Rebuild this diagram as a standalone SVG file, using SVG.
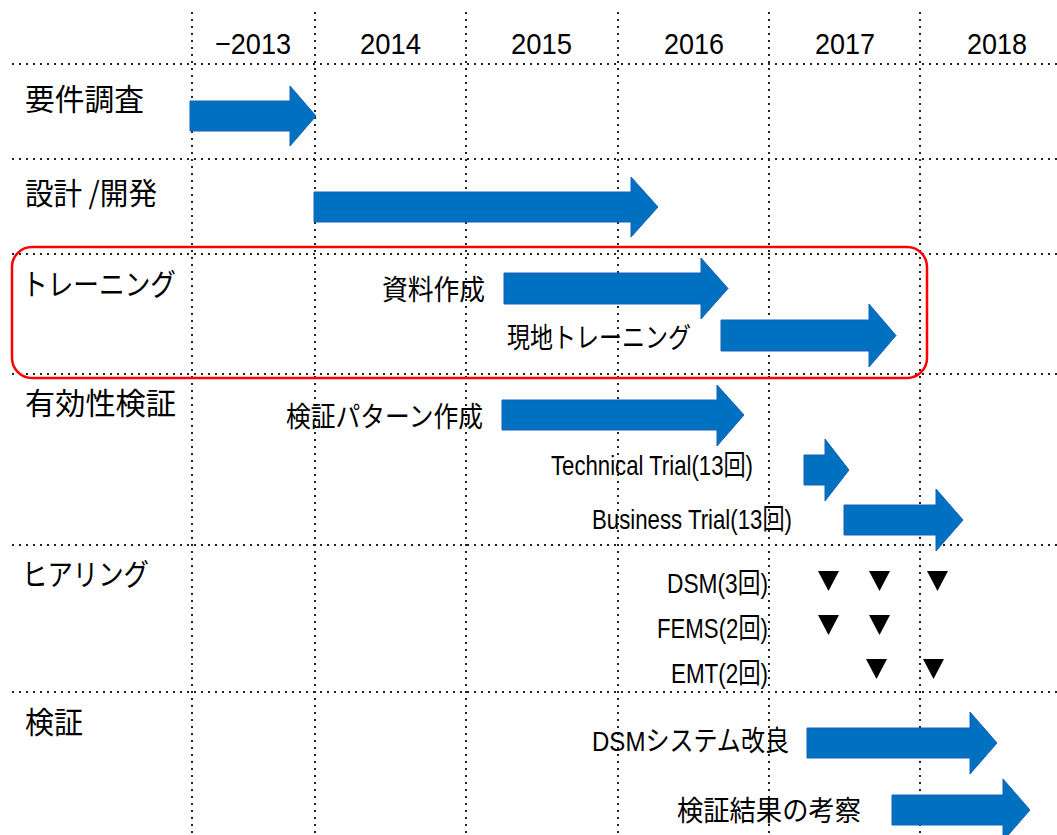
<svg xmlns="http://www.w3.org/2000/svg" width="1057" height="835" viewBox="0 0 1057 835">
<style>
.grid{stroke:#222;stroke-width:2;stroke-dasharray:2 5;fill:none}
.yr{font-family:"Liberation Sans","Noto Sans CJK JP",sans-serif;font-size:30px;fill:#000}
.row{font-family:"Noto Sans CJK JP",sans-serif;font-size:30px;fill:#000}
.lbl{font-family:"Noto Sans CJK JP",sans-serif;font-size:28px;fill:#000}
.lat{font-family:"Liberation Sans","Noto Sans CJK JP",sans-serif;font-size:28px;fill:#000}
.arr{fill:#0070C0;stroke:#1560BD;stroke-width:1}
.tri{fill:#000}
</style>
<rect width="1057" height="835" fill="#fff"/>
<g id="grid">
<line class="grid" x1="192" y1="12" x2="192" y2="835"/>
<line class="grid" x1="315" y1="12" x2="315" y2="835"/>
<line class="grid" x1="466" y1="12" x2="466" y2="835"/>
<line class="grid" x1="618" y1="12" x2="618" y2="835"/>
<line class="grid" x1="769" y1="12" x2="769" y2="835"/>
<line class="grid" x1="920" y1="12" x2="920" y2="835"/>
<line class="grid" x1="12" y1="64" x2="1057" y2="64"/>
<line class="grid" x1="12" y1="159" x2="1057" y2="159"/>
<line class="grid" x1="12" y1="254" x2="1057" y2="254"/>
<line class="grid" x1="12" y1="374" x2="1057" y2="374"/>
<line class="grid" x1="12" y1="545" x2="1057" y2="545"/>
<line class="grid" x1="12" y1="692" x2="1057" y2="692"/>
</g>
<g id="years">
<text class="yr" x="215" y="54" textLength="76" lengthAdjust="spacingAndGlyphs">−2013</text>
<text class="yr" x="360" y="54" textLength="61" lengthAdjust="spacingAndGlyphs">2014</text>
<text class="yr" x="511" y="54" textLength="61" lengthAdjust="spacingAndGlyphs">2015</text>
<text class="yr" x="664" y="54" textLength="60" lengthAdjust="spacingAndGlyphs">2016</text>
<text class="yr" x="815" y="54" textLength="60" lengthAdjust="spacingAndGlyphs">2017</text>
<text class="yr" x="967" y="54" textLength="60" lengthAdjust="spacingAndGlyphs">2018</text>
</g>
<g id="highlight">
<rect x="12" y="247" width="915" height="131" rx="20" ry="20" fill="none" stroke="#FF0000" stroke-width="2.5"/>
</g>
<g id="row-youken">
<text class="row" x="25" y="110" textLength="119" lengthAdjust="spacingAndGlyphs">要件調査</text>
</g>
<g id="row-sekkei">
<text class="row" x="25" y="204" textLength="132" lengthAdjust="spacingAndGlyphs">設計 /開発</text>
</g>
<g id="row-training">
<text class="row" x="22" y="295" textLength="154" lengthAdjust="spacingAndGlyphs">トレーニング</text>
<text class="lbl" x="382" y="300" textLength="103" lengthAdjust="spacingAndGlyphs">資料作成</text>
<text class="lbl" x="507" y="348" textLength="184" lengthAdjust="spacingAndGlyphs">現地トレーニング</text>
</g>
<g id="row-yukousei">
<text class="row" x="25" y="414" textLength="151" lengthAdjust="spacingAndGlyphs">有効性検証</text>
<text class="lbl" x="286" y="427" textLength="197" lengthAdjust="spacingAndGlyphs">検証パターン作成</text>
<text class="lat" x="551" y="475" textLength="202" lengthAdjust="spacingAndGlyphs">Technical Trial(13回)</text>
<text class="lat" x="592" y="529" textLength="200" lengthAdjust="spacingAndGlyphs">Business Trial(13回)</text>
</g>
<g id="row-hearing">
<text class="row" x="22" y="585" textLength="127" lengthAdjust="spacingAndGlyphs">ヒアリング</text>
<text class="lat" x="667" y="593" textLength="101" lengthAdjust="spacingAndGlyphs">DSM(3回)</text>
<text class="lat" x="657" y="638" textLength="111" lengthAdjust="spacingAndGlyphs">FEMS(2回)</text>
<text class="lat" x="671" y="683" textLength="97" lengthAdjust="spacingAndGlyphs">EMT(2回)</text>
<polygon class="tri" points="818,571 839,571 828.5,591"/>
<polygon class="tri" points="869,571 890,571 879.5,591"/>
<polygon class="tri" points="927,571 948,571 937.5,591"/>
<polygon class="tri" points="818,615 839,615 828.5,635"/>
<polygon class="tri" points="869,615 890,615 879.5,635"/>
<polygon class="tri" points="866,659 887,659 876.5,679"/>
<polygon class="tri" points="923,659 944,659 933.5,679"/>
</g>
<g id="row-kensho">
<text class="row" x="25" y="733" textLength="58" lengthAdjust="spacingAndGlyphs">検証</text>
<text class="lat" x="592" y="751" textLength="197" lengthAdjust="spacingAndGlyphs">DSMシステム改良</text>
<text class="lbl" x="677" y="821" textLength="184" lengthAdjust="spacingAndGlyphs">検証結果の考察</text>
</g>
<g id="connectors">
<polygon class="arr" points="190,101 290,101 290,86 316,116 290,146 290,131 190,131"/>
<polygon class="arr" points="314,192 631,192 631,177 658,207 631,237 631,222 314,222"/>
<polygon class="arr" points="504,273 701,273 701,258 728,288.5 701,319 701,304 504,304"/>
<polygon class="arr" points="721,320 869,320 869,304 896,335.5 869,367 869,351 721,351"/>
<polygon class="arr" points="502,400 717,400 717,385 744,415 717,446 717,430 502,430"/>
<polygon class="arr" points="804,455 825,455 825,439 849,470 825,501 825,485 804,485"/>
<polygon class="arr" points="844,505 936,505 936,489 963,520 936,551 936,535 844,535"/>
<polygon class="arr" points="807,728 970,728 970,712 997,743 970,774 970,758 807,758"/>
<polygon class="arr" points="892,795 1003,795 1003,779 1030,810 1003,841 1003,825 892,825"/>
</g>
</svg>
